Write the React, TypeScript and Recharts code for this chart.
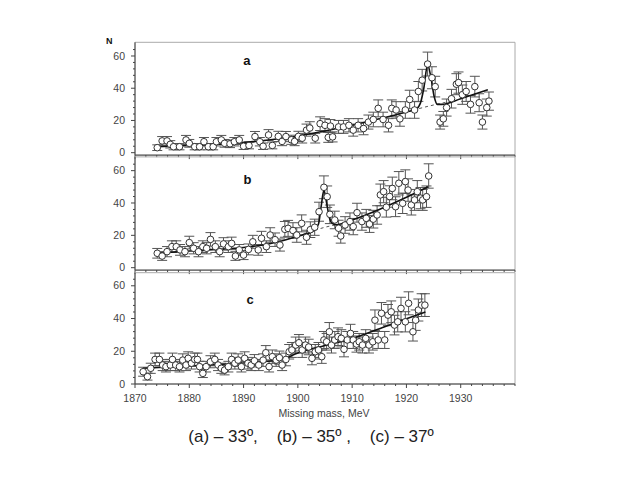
import React from 'react';
import { ComposedChart, Scatter, Line, XAxis, YAxis, ErrorBar, ReferenceArea, ReferenceDot } from 'recharts';

// ---------- Panel (a) ----------
const massA = [1874.1,1875.0,1875.9,1876.5,1877.1,1878.2,1879.4,1880.0,1881.0,1881.9,1882.7,1883.5,1884.4,1885.0,1885.9,1886.5,1887.5,1888.3,1889.2,1890.0,1891.0,1892.1,1893.0,1893.6,1894.6,1895.3,1896.4,1897.1,1897.8,1898.8,1899.4,1900.1,1900.8,1901.6,1902.2,1903.2,1904.1,1905.0,1905.6,1906.0,1906.4,1907.5,1908.4,1909.4,1910.2,1911.1,1912.1,1913.0,1913.9,1914.8,1915.7,1916.7,1917.3,1918.1,1918.8,1919.8,1920.6,1921.5,1922.2,1922.9,1923.9,1924.7,1925.3,1926.2,1926.8,1927.4,1928.3,1929.2,1929.6,1930.3,1931.0,1931.8,1932.6,1933.4,1934.0,1934.8,1935.2];
const countsA = [3.1,7.3,7.3,5.2,3.7,3.7,7.9,5.8,3.7,3.7,6.8,3.7,3.7,6.8,7.9,5.8,5.5,6.8,7.9,4.0,4.5,10.0,6.8,4.0,11.0,4.5,10.1,7.0,10.0,8.0,7.0,10.1,9.0,14.0,15.3,9.0,18.0,17.0,9.5,16.5,9.8,16.0,16.0,17.0,14.0,17.0,15.0,19.0,20.6,27.5,20.6,17.0,27.5,26.5,21.0,26.5,33.0,26.5,38.0,45.0,55.0,46.5,41.0,19.0,21.0,28.0,33.5,42.5,43.5,36.0,38.0,30.0,41.0,31.0,19.0,28.0,32.0];
const fitMassA = [1874,1880,1888,1895,1900,1905,1910,1915,1920,1921.8,1922.6,1923.2,1923.9,1924.5,1925.1,1925.7,1926.5,1930,1935];
const fitCountsA = [3.7,4.5,5.8,8.0,10.3,13.5,17.0,21.0,25.3,27.0,31.0,40.0,54.5,47.0,35.0,30.0,30.0,33.5,39.0];
const bgMassA = [1917,1920,1924,1928];
const bgCountsA = [22.8,25.3,28.8,31.8];

// ---------- Panel (b) ----------
const massB = [1874.1,1875.0,1875.9,1876.8,1877.6,1878.3,1879.2,1880.0,1880.8,1881.7,1882.5,1883.2,1883.9,1884.8,1885.6,1886.3,1887.2,1887.8,1888.5,1889.2,1890.0,1890.9,1891.7,1892.7,1893.3,1894.2,1894.9,1895.8,1896.7,1897.6,1898.2,1899.1,1899.8,1900.7,1901.6,1902.3,1903.1,1903.9,1904.8,1905.4,1905.9,1906.8,1907.5,1907.9,1908.7,1909.6,1910.2,1910.9,1911.8,1912.6,1913.2,1913.9,1914.6,1915.2,1915.8,1916.3,1916.9,1917.4,1918.0,1918.6,1919.3,1919.8,1920.3,1920.9,1921.5,1922.0,1922.6,1923.0,1923.7,1924.1];
const countsB = [8.9,7.2,9.9,13.0,13.0,11.0,9.9,15.5,12.0,9.9,13.0,12.0,17.5,13.0,9.9,14.7,13.0,15.0,7.2,11.0,7.8,11.3,16.0,11.0,18.2,13.0,20.2,17.3,14.0,23.7,24.3,23.0,20.2,27.4,18.8,23.5,25.0,34.6,49.7,43.9,33.0,29.5,24.4,19.6,26.4,28.5,25.4,34.0,28.5,30.5,27.0,30.0,32.6,45.0,47.0,37.4,44.0,49.0,37.7,52.2,39.8,53.2,48.0,38.8,41.9,47.0,43.0,41.9,43.9,56.7];
const fitMassB = [1874,1880,1885,1890,1895,1900,1903,1903.8,1904.3,1904.8,1905.3,1905.8,1906.4,1907,1910,1915,1920,1924];
const fitCountsB = [9.0,10.3,11.3,12.5,15.0,19.5,23.0,27.0,38.0,48.0,40.0,31.0,27.2,26.5,29.5,36.0,43.5,50.0];
const bgMassB = [1900,1903,1905,1907];
const bgCountsB = [19.5,23.0,25.0,26.5];

// ---------- Panel (c) ----------
const massC = [1871.5,1872.3,1872.9,1873.7,1874.5,1875.1,1875.7,1876.5,1876.9,1877.5,1878.2,1878.8,1879.4,1879.8,1880.4,1881.0,1881.5,1881.9,1882.5,1883.1,1883.9,1884.7,1885.3,1885.9,1886.5,1887.2,1887.8,1888.4,1889.0,1889.6,1890.2,1890.8,1891.4,1892.0,1892.8,1893.6,1894.1,1894.7,1895.3,1896.0,1896.6,1897.1,1897.8,1898.4,1898.9,1899.6,1900.2,1900.8,1901.4,1902.0,1902.6,1903.2,1903.8,1904.4,1904.8,1905.3,1905.8,1906.2,1906.8,1907.4,1908.0,1908.5,1909.1,1909.7,1910.2,1910.8,1911.3,1911.9,1912.5,1913.1,1913.8,1914.2,1914.8,1915.4,1916.0,1916.6,1917.2,1917.8,1918.4,1919.0,1919.8,1920.4,1921.2,1921.7,1922.2,1922.8,1923.4];
const countsC = [7.5,4.5,9.6,15.0,15.0,11.6,10.6,11.6,15.0,11.6,10.6,14.6,11.6,15.7,12.7,15.0,15.0,10.6,6.5,10.6,13.6,15.0,11.6,9.6,8.5,10.6,15.0,12.7,14.6,10.6,15.7,12.7,11.6,14.2,11.6,14.6,19.1,10.6,16.7,14.6,16.1,11.6,15.0,19.7,20.8,23.8,25.2,20.8,23.8,22.6,15.7,19.7,20.8,16.7,26.9,25.8,31.9,23.8,26.9,28.9,27.9,21.2,26.9,30.9,26.9,24.4,25.8,23.8,27.9,23.8,25.8,39.0,26.9,43.2,26.9,42.1,44.1,36.0,38.0,46.2,38.0,49.3,31.9,39.0,45.2,48.2,48.2];
const fitMassC = [1871.5,1880,1890,1897,1900,1905,1910,1916,1923.5];
const fitCountsC = [9.6,11.0,12.8,15.0,19.0,23.5,27.8,35.0,44.0];

const xTicks = [1870,1872,1874,1876,1878,1880,1882,1884,1886,1888,1890,1892,1894,1896,1898,1900,1902,1904,1906,1908,1910,1912,1914,1916,1918,1920,1922,1924,1926,1928,1930,1932,1934,1936,1938,1940];
const xLabelTicks = [1870,1880,1890,1900,1910,1920,1930];
const yTicks = [0,4,8,12,16,20,24,28,32,36,40,44,48,52,56,60,64];
const yLabelTicks = [0,20,40,60];

const FONT = '"Liberation Sans", Arial, Helvetica, sans-serif';

const toPts = (xs: number[], ys: number[]) => xs.map((x, i) => ({ x, y: ys[i], e: Math.sqrt(ys[i]) }));
const toLine = (xs: number[], ys: number[]) => xs.map((x, i) => ({ x, y: ys[i] }));

const XTick = (props: any) => {
  const { x, y, payload, showLabels } = props;
  const v = payload.value;
  const major = xLabelTicks.includes(v);
  return (
    <g>
      <line x1={x} x2={x} y1={y} y2={y + (major ? 4 : 2)} stroke="#444" strokeWidth={1} />
      {showLabels && major ? (
        <text x={x} y={y + 17.5} textAnchor="middle" fontSize={10.5} fontFamily={FONT} fill="#444">{v}</text>
      ) : null}
    </g>
  );
};

const YTick = (props: any) => {
  const { x, y, payload } = props;
  const v = payload.value;
  const major = yLabelTicks.includes(v);
  return (
    <g>
      <line x1={x - (major ? 4 : 2)} x2={x} y1={y} y2={y} stroke="#444" strokeWidth={1} />
      {major ? (
        <text x={x - 10} y={y} dy="0.35em" textAnchor="end" fontSize={10.5} fontFamily={FONT} fill="#444">{v}</text>
      ) : null}
    </g>
  );
};

const Circle = (props: any) => {
  const { cx, cy } = props;
  if (cx == null || cy == null) return null;
  return <circle cx={cx} cy={cy} r={3.3} fill="#fff" stroke="#333" strokeWidth={1} />;
};

type PanelProps = {
  top: number; bottom: number; yMin: number; yMax: number;
  pts: { x: number; y: number; e: number }[];
  fit: { x: number; y: number }[];
  bg?: { x: number; y: number }[];
  letter: string; letterX: number; letterY: number; showXLabels: boolean;
};

function Panel(p: PanelProps) {
  return (
    <div style={{ position: 'absolute', left: 0, top: 0 }}>
      <ComposedChart width={640} height={480} margin={{ top: p.top, right: 125, bottom: 480 - p.bottom - 20, left: 95 }}>
        <ReferenceArea x1={1870} x2={1940} y1={p.yMin} y2={p.yMax} fill="none" stroke="#aaa" strokeWidth={1} ifOverflow="visible" />
        <XAxis type="number" dataKey="x" domain={[1870, 1940]} allowDataOverflow ticks={xTicks} interval={0}
          tickSize={0} tickMargin={0} tickLine={false} axisLine={{ stroke: '#444' }} height={20}
          tick={(tp: any) => <XTick {...tp} showLabels={p.showXLabels} />} />
        <YAxis type="number" dataKey="y" domain={[p.yMin, p.yMax]} allowDataOverflow ticks={yTicks} interval={0}
          tickSize={0} tickMargin={0} tickLine={false} axisLine={{ stroke: '#444' }} width={40}
          tick={(tp: any) => <YTick {...tp} />} />
        <Scatter data={p.pts} dataKey="y" isAnimationActive={false} shape={<Circle />}>
          <ErrorBar dataKey="e" direction="y" width={5} stroke="#555" strokeWidth={1} />
        </Scatter>
        {p.bg ? (
          <Line data={p.bg} dataKey="y" type="monotone" stroke="#555" strokeWidth={1} strokeDasharray="3 3" dot={false} isAnimationActive={false} />
        ) : null}
        <Line data={p.fit} dataKey="y" type="monotone" stroke="#111" strokeWidth={1.6} dot={false} isAnimationActive={false} />
        <ReferenceDot x={p.letterX} y={p.letterY} r={0} fill="none" stroke="none"
          label={{ value: p.letter, position: 'center', fill: '#111', fontSize: 13, fontWeight: 700, fontFamily: FONT }} />
      </ComposedChart>
    </div>
  );
}

export default function App() {
  return (
    <div style={{ position: 'absolute', left: 0, top: 0, width: 640, height: 480, background: '#fff', overflow: 'hidden', fontFamily: FONT }}>
      <Panel top={42.3} bottom={155.1} yMin={-1.5} yMax={68.5} pts={toPts(massA, countsA)} fit={toLine(fitMassA, fitCountsA)}
        bg={toLine(bgMassA, bgCountsA)} letter="a" letterX={1890.6} letterY={57} showXLabels={false} />
      <Panel top={156.9} bottom={270.1} yMin={-1.5} yMax={68.5} pts={toPts(massB, countsB)} fit={toLine(fitMassB, fitCountsB)}
        bg={toLine(bgMassB, bgCountsB)} letter="b" letterX={1890.7} letterY={54.7} showXLabels={false} />
      <Panel top={272.7} bottom={384} yMin={0} yMax={68} pts={toPts(massC, countsC)} fit={toLine(fitMassC, fitCountsC)}
        letter="c" letterX={1891.2} letterY={51.9} showXLabels={true} />
      <div style={{ position: 'absolute', left: 106, top: 35, fontSize: 9, fontWeight: 700, color: '#111', lineHeight: '12px' }}>N</div>
      <div style={{ position: 'absolute', left: 0, top: 407, width: 648, textAlign: 'center', fontSize: 10.5, color: '#444', lineHeight: '12px' }}>Missing mass, MeV</div>
      <div style={{ position: 'absolute', left: 0, top: 427, width: 622, textAlign: 'center', fontSize: 17, color: '#222', lineHeight: '20px', whiteSpace: 'pre' }}>{'(a) – 33º,    (b) – 35º ,    (c) – 37º'}</div>
    </div>
  );
}
